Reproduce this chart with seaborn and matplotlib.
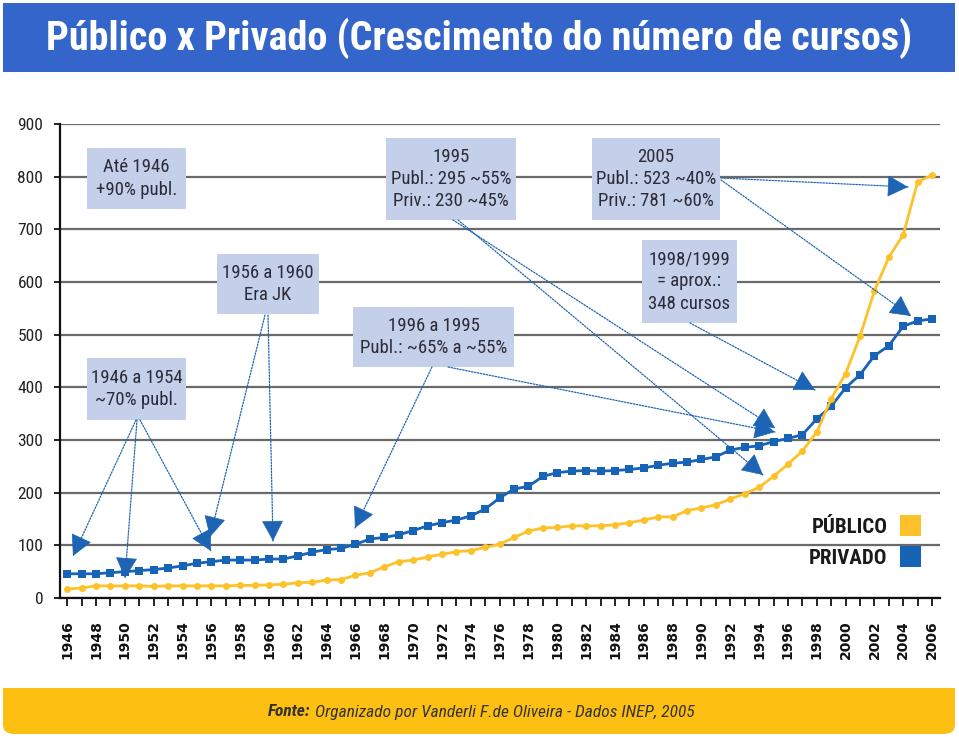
import numpy as np
import pandas as pd
import matplotlib
matplotlib.use("Agg")
import matplotlib.pyplot as plt
import seaborn as sns
from matplotlib import font_manager as fm
from matplotlib.patches import Rectangle, FancyBboxPatch, FancyArrowPatch, Patch

# ---------------- data ----------------
anos = list(range(1946, 2007))
publico = [17, 19, 23, 23, 23, 23, 22, 23, 23, 23, 23, 23, 24, 24, 25, 26, 29, 30, 34,
           35, 43, 48, 59, 69, 72, 78, 83, 88, 90, 96, 102, 115, 127, 133, 134, 137, 137, 137, 139, 143, 148,
           154, 154, 166, 171, 177, 188, 198, 210, 231, 254, 279, 315, 378, 426, 497, 583, 647, 690, 790, 803]
privado = [46, 46, 46, 48, 50, 52, 54, 57, 61, 66, 69, 72, 72, 72, 74, 74, 80, 87, 92,
           94, 102, 112, 115, 120, 128, 137, 143, 148, 156, 169, 190, 207, 212, 231, 238, 241, 242, 241, 242, 244, 247,
           252, 256, 258, 263, 268, 281, 286, 289, 297, 303, 310, 340, 364, 399, 424, 460, 479, 516, 526, 530]
series_labels = ["PÚBLICO", "PRIVADO"]
y_ticks = [0, 100, 200, 300, 400, 500, 600, 700, 800, 900]
x_tick_labels = [str(a) if a % 2 == 0 else "" for a in anos]

title = "Público x Privado (Crescimento do número de cursos)"
fonte_bold = "Fonte:"
fonte_rest = "Organizado por Vanderli F.de Oliveira - Dados INEP, 2005"

boxes = [
    ("Até 1946\n+90% publ.", (87, 148, 186, 209)),
    ("1995\nPubl.: 295 ~55%\nPriv.: 230 ~45%", (386, 138, 516, 220)),
    ("2005\nPubl.: 523 ~40%\nPriv.: 781 ~60%", (592, 138, 720, 220)),
    ("1956 a 1960\nEra JK", (217, 254, 319, 314)),
    ("1996 a 1995\nPubl.: ~65% a ~55%", (353, 307, 514, 367)),
    ("1946 a 1954\n~70% publ.", (87, 358, 186, 420)),
    ("1998/1999\n= aprox.:\n348 cursos", (642, 240, 737, 323)),
]
arrows = [
    ((136, 420), (73, 556)),
    ((137, 420), (125, 578)),
    ((140, 420), (211, 551)),
    ((265, 315), (210, 537)),
    ((268, 315), (273, 541)),
    ((432, 367), (355, 528)),
    ((448, 367), (775, 432)),
    ((453, 220), (775, 428)),
    ((458, 220), (763, 475)),
    ((690, 323), (815, 390)),
    ((721, 178), (908, 187)),
    ((721, 180), (911, 316)),
]

df = pd.DataFrame({
    "ano": anos * 2,
    "cursos": publico + privado,
    "tipo": [series_labels[0]] * len(anos) + [series_labels[1]] * len(anos),
})

# ---------------- fonts ----------------
sns.set_theme(style="white")
names = {f.name for f in fm.fontManager.ttflist}
def pick(*cands):
    for c in cands:
        if c in names:
            return c
    return "DejaVu Sans"
NARROW = pick("Liberation Sans Narrow", "Roboto Condensed", "Open Sans Condensed", "Liberation Sans")
SANS = pick("Liberation Sans", "DejaVu Sans")
plt.rcParams["font.family"] = [SANS, "DejaVu Sans"]

W, H = 959, 737
YEL = "#FDC12A"
BLU = "#1763B6"
ARR = "#1E64B4"

fig = plt.figure(figsize=(W / 100, H / 100), dpi=100)
fig.patch.set_facecolor("white")

def fx(x):
    return x / W
def fy(y):
    return 1 - y / H

# title band
fig.add_artist(Rectangle((fx(3), fy(72)), (952) / W, 69 / H, transform=fig.transFigure,
                         facecolor="#3465CB", edgecolor="none", zorder=0))
fig.text(0.5, fy(38), title, ha="center", va="center", color="white",
         fontsize=29, fontweight="bold", family=NARROW)

# footer band
fig.add_artist(FancyBboxPatch((fx(3) + 0.012, fy(734) + 0.012), fx(952) - 0.024, 46 / H - 0.024,
                              boxstyle="round,pad=0.012", transform=fig.transFigure,
                              facecolor="#FDBF12", edgecolor="none", zorder=0))
fig.add_artist(Rectangle((fx(3), fy(700)), fx(952), 12 / H, transform=fig.transFigure,
                         facecolor="#FDBF12", edgecolor="none", zorder=0))
t1 = fig.text(fx(311), fy(712), fonte_bold, ha="right", va="center", color="#333333",
              fontsize=12.5, fontweight="bold", style="italic", family=NARROW)
t2 = fig.text(fx(315), fy(712), fonte_rest, ha="left", va="center", color="#333333",
              fontsize=12.5, style="italic", family=NARROW)

# axes
ax = fig.add_axes([fx(60), fy(598), 880 / W, 474 / H])
ax.set_facecolor("white")
sns.lineplot(data=df[df.tipo == series_labels[1]], x="ano", y="cursos", color=BLU, lw=2.0,
             marker="s", markersize=5.5, markeredgewidth=0, ax=ax, legend=False, zorder=3)
sns.lineplot(data=df[df.tipo == series_labels[0]], x="ano", y="cursos", color=YEL, lw=2.0,
             marker="o", markersize=5, markeredgewidth=0, ax=ax, legend=False, zorder=4)

ax.set_xlim(1945.5, 2006.55)
ax.set_ylim(0, 900)
ax.set_xticks(anos)
ax.set_xticklabels(x_tick_labels, rotation=90, fontsize=10, fontweight="bold",
                   family="DejaVu Sans", color="#111111")
ax.set_yticks(y_ticks)
ax.set_yticklabels([str(v) for v in y_ticks], fontsize=12.5, family=NARROW, color="#222222")
ax.set_xlabel("")
ax.set_ylabel("")
ax.tick_params(axis="x", direction="out", length=6, width=1.3, color="#111111", pad=10, bottom=True)
ax.tick_params(axis="y", direction="out", length=4, width=1.3, color="#111111", pad=8, left=True)
ax.yaxis.grid(True, color="#6a6a6a", lw=1.6, zorder=0)
ax.xaxis.grid(False)
ax.set_axisbelow(True)
for s in ["top", "right"]:
    ax.spines[s].set_visible(False)
for s in ["left", "bottom"]:
    ax.spines[s].set_color("#111111")
    ax.spines[s].set_linewidth(1.6)

# legend (label first, square after)
handles = [Patch(facecolor=YEL, edgecolor="none", label=series_labels[0]),
           Patch(facecolor=BLU, edgecolor="none", label=series_labels[1])]
leg = ax.legend(handles=handles, markerfirst=False, frameon=False, loc="upper right",
                bbox_to_anchor=(fx(921), fy(515)), bbox_transform=fig.transFigure,
                borderaxespad=0, borderpad=0, handlelength=1.0, handleheight=1.2,
                handletextpad=0.6, labelspacing=0.45,
                prop=dict(family=NARROW, weight="bold", size=15))
for t in leg.get_texts():
    t.set_color("#1a1a1a")

# annotation boxes
for txt, (x0, y0, x1, y1) in boxes:
    fig.add_artist(Rectangle((fx(x0), fy(y1)), (x1 - x0) / W, (y1 - y0) / H,
                             transform=fig.transFigure, facecolor="#C4CFE9",
                             edgecolor="none", zorder=5))
    fig.text(fx((x0 + x1) / 2), fy((y0 + y1) / 2), txt, ha="center", va="center",
             fontsize=13.5, family=NARROW, color="#2C2C38", linespacing=1.3, zorder=6)

# arrows
for (x0, y0), (x1, y1) in arrows:
    fig.add_artist(FancyArrowPatch((fx(x0), fy(y0)), (fx(x1), fy(y1)), transform=fig.transFigure,
                                   arrowstyle="-", linestyle=(0, (1.2, 1.2)), color=ARR, lw=0.9,
                                   shrinkA=0, shrinkB=0, zorder=7))
    d = np.array([x1 - x0, y1 - y0], dtype=float)
    d /= np.linalg.norm(d)
    sx, sy = x1 - d[0] * 14, y1 - d[1] * 14
    fig.add_artist(FancyArrowPatch((fx(sx), fy(sy)), (fx(x1), fy(y1)), transform=fig.transFigure,
                                   arrowstyle="-|>,head_length=0.8,head_width=0.42", mutation_scale=17,
                                   color=ARR, lw=0.5, shrinkA=0, shrinkB=0, zorder=8))

fig.savefig("out.png", dpi=100, facecolor="white")
